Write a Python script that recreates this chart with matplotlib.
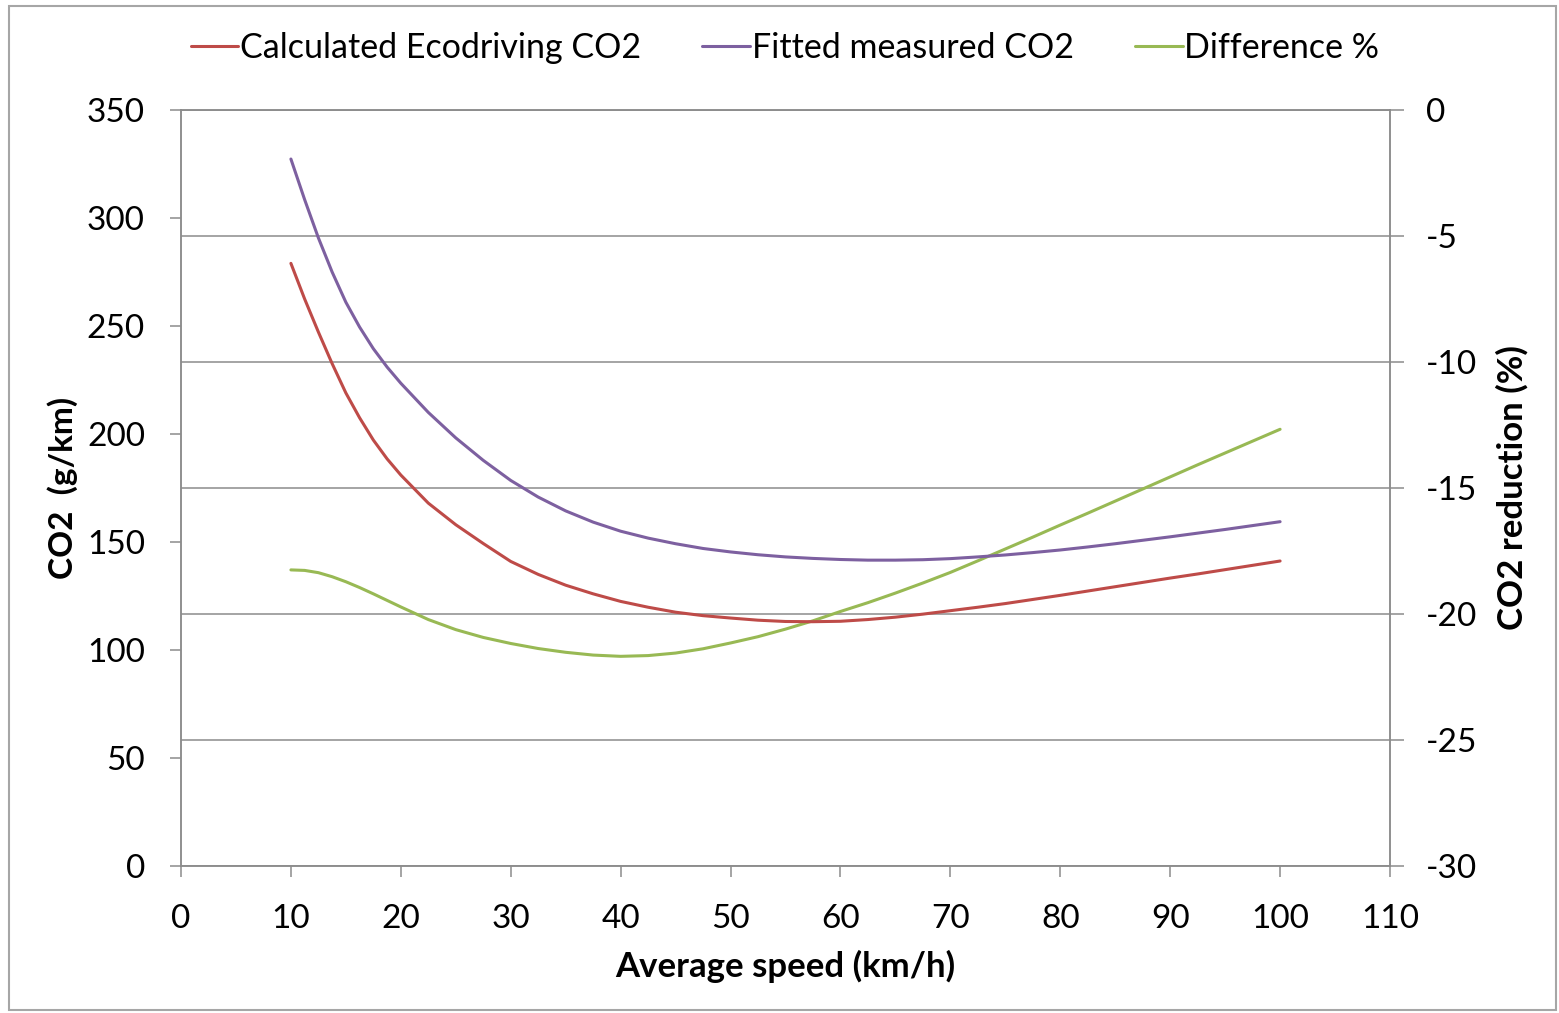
import matplotlib
matplotlib.use("Agg")
import matplotlib.pyplot as plt
from matplotlib.patches import Rectangle

plt.rcParams['font.family'] = ['Lato', 'DejaVu Sans']
plt.rcParams['axes.unicode_minus'] = False

# valeurs
speeds = [10, 11.25, 12.5, 13.75, 15, 16.25, 17.5, 18.75, 20, 22.5, 25, 27.5,
          30, 32.5, 35, 37.5, 40, 42.5, 45, 47.5, 50, 52.5, 55, 57.5, 60,
          62.5, 65, 67.5, 70, 72.5, 75, 77.5, 80, 82.5, 85, 87.5, 90, 92.5,
          95, 97.5, 100]
co2_eco = [279, 262.5, 247.2, 232.6, 219, 207.5, 197.2, 188.5, 181, 168, 158,
           149.3, 141, 135, 130, 126, 122.5, 119.8, 117.5, 115.9, 114.8,
           113.8, 113.2, 113.1, 113.3, 114.1, 115.2, 116.6, 118.2, 119.8,
           121.5, 123.4, 125.3, 127.3, 129.3, 131.3, 133.3, 135.2, 137.2,
           139.2, 141.2]
co2_meas = [327.3, 308.5, 290.8, 275, 261, 249.5, 239.5, 231, 223.5, 210,
            198.2, 187.8, 178.5, 170.8, 164.4, 159.2, 155, 151.8, 149.2, 147,
            145.4, 144.1, 143.1, 142.4, 141.9, 141.6, 141.6, 141.8, 142.3,
            143.1, 144, 145.1, 146.3, 147.7, 149.2, 150.8, 152.4, 154.1,
            155.8, 157.6, 159.4]
diff_pct = [-18.25, -18.27, -18.36, -18.52, -18.72, -18.95, -19.2, -19.46,
            -19.72, -20.22, -20.62, -20.93, -21.17, -21.37, -21.52, -21.63,
            -21.68, -21.65, -21.55, -21.38, -21.15, -20.9, -20.6, -20.27,
            -19.9, -19.55, -19.17, -18.77, -18.35, -17.89, -17.42, -16.95,
            -16.47, -16.0, -15.52, -15.04, -14.56, -14.08, -13.61, -13.14,
            -12.67]

x_ticks = list(range(0, 111, 10))
left_ticks = list(range(0, 351, 50))
right_ticks = list(range(-30, 1, 5))

c_red = '#BE4B48'
c_purple = '#7D60A0'
c_green = '#98B954'
c_axis = '#8C8C8C'

fig = plt.figure(figsize=(15.59, 10.13), dpi=100)
ax = fig.add_axes([181 / 1559, 147 / 1013, 1209 / 1559, 756 / 1013])
ax2 = ax.twinx()

# la grille suit l'axe secondaire, derrière les courbes principales
ax.set_zorder(ax2.get_zorder() + 1)
ax.patch.set_visible(False)

style = dict(lw=2.2, solid_joinstyle='round', solid_capstyle='round')
l1, = ax.plot(speeds, co2_eco, color=c_red, label='Calculated Ecodriving CO2', **style)
l2, = ax.plot(speeds, co2_meas, color=c_purple, label='Fitted measured CO2', **style)
l3, = ax2.plot(speeds, diff_pct, color=c_green, label='Difference %', **style)

ax.set_xlim(0, 110)
ax.set_ylim(0, 350)
ax2.set_ylim(-30, 0)
ax.set_xticks(x_ticks)
ax.set_yticks(left_ticks)
ax2.set_yticks(right_ticks)

ax2.grid(axis='y', color=c_axis, lw=1.1)
ax2.set_axisbelow(True)

for a in (ax, ax2):
    for s in a.spines.values():
        s.set_color(c_axis)
        s.set_linewidth(1.1)

ax.tick_params(axis='x', length=8, width=1.1, color=c_axis, pad=19, labelsize=24)
ax.tick_params(axis='y', length=8, width=1.1, color=c_axis, pad=18, labelsize=24)
ax2.tick_params(axis='y', length=10, width=1.1, color=c_axis, pad=16, labelsize=24)

ax.set_xlabel('Average speed (km/h)', fontsize=25, fontweight='bold', labelpad=12)
ax.set_ylabel('CO2  (g/km)', fontsize=24, fontweight='bold', labelpad=6)
ax2.set_ylabel('CO2 reduction (%)', fontsize=25, fontweight='bold', labelpad=13)

fig.legend(handles=[l1, l2, l3], loc='center', bbox_to_anchor=(0.5035, 0.953),
           ncol=3, frameon=False, fontsize=24.5, handlelength=1.4,
           handletextpad=0.05, columnspacing=1.8)

fig.patches.append(Rectangle((9 / 1559, 3 / 1013), 1547 / 1559, 1004 / 1013,
                             transform=fig.transFigure, fill=False,
                             edgecolor='#A6A6A6', lw=1.5))

fig.savefig('out.png', dpi=100)
